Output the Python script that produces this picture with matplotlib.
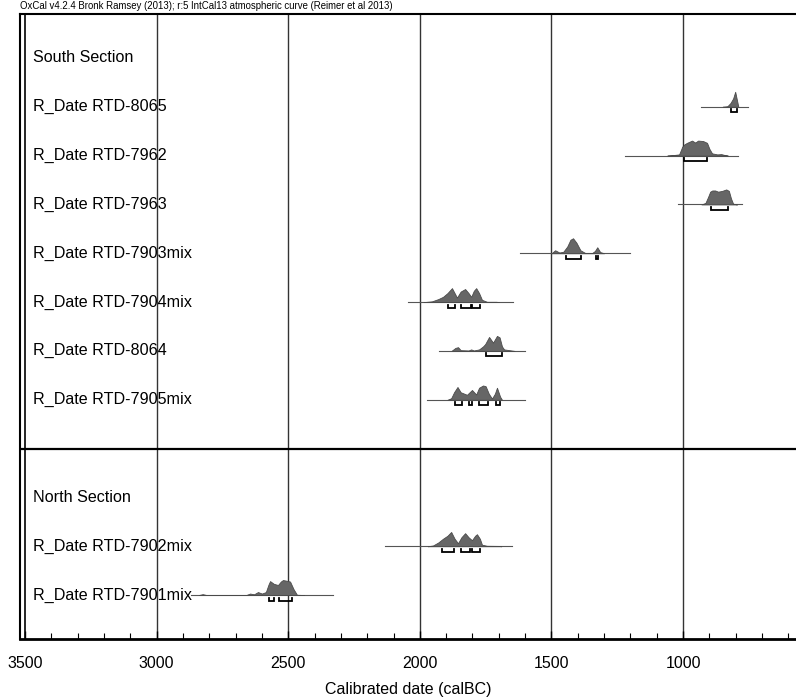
#!/usr/bin/env python3
"""OxCal multiplot of calibrated radiocarbon dates (South / North sections)."""

import matplotlib
matplotlib.use('Agg')
import matplotlib.pyplot as plt
import numpy as np

plt.rcParams['font.family'] = ['Liberation Sans', 'DejaVu Sans']

# Row labels, top to bottom (None = empty separator row)
row_labels = [
    'South Section',
    'R_Date RTD-8065',
    'R_Date RTD-7962',
    'R_Date RTD-7963',
    'R_Date RTD-7903mix',
    'R_Date RTD-7904mix',
    'R_Date RTD-8064',
    'R_Date RTD-7905mix',
    None,
    'North Section',
    'R_Date RTD-7902mix',
    'R_Date RTD-7901mix',
]
separator_row = 8

# Likelihood curves: (years calBC, relative density)
dates = {
    'R_Date RTD-8065': {
        'span': (931, 753),
        'years': [850, 832, 820, 810, 802, 796, 790],
        'dens': [0.0, 0.03, 0.25, 0.55, 1.0, 0.5, 0.0],
        'ranges': [(817, 794)],
    },
    'R_Date RTD-7962': {
        'span': (1220, 790),
        'years': [1060, 1040, 1015, 1003, 995, 985, 966, 954, 943, 924, 909,
                  900, 890, 870, 855, 840, 830],
        'dens': [0.0, 0.03, 0.08, 0.6, 0.75, 0.85, 1.0, 0.87, 1.0, 0.97, 0.85,
                 0.45, 0.15, 0.08, 0.1, 0.03, 0.0],
        'ranges': [(996, 908)],
    },
    'R_Date RTD-7963': {
        'span': (1019, 776),
        'years': [930, 915, 905, 897, 889, 878, 867, 852, 836, 826, 818, 810,
                  795],
        'dens': [0.0, 0.1, 0.5, 0.85, 0.93, 0.93, 0.85, 0.9, 1.0, 0.9, 0.4,
                 0.05, 0.0],
        'ranges': [(893, 829)],
    },
    'R_Date RTD-7903mix': {
        'span': (1619, 1201),
        'years': [1500, 1486, 1470, 1455, 1440, 1428, 1418, 1405, 1390, 1372,
                  1345, 1335, 1326, 1315, 1300],
        'dens': [0.0, 0.2, 0.05, 0.1, 0.45, 0.9, 1.0, 0.7, 0.2, 0.02, 0.02,
                 0.15, 0.4, 0.08, 0.0],
        'ranges': [(1444, 1387), (1330, 1323)],
    },
    'R_Date RTD-7904mix': {
        'span': (2045, 1646),
        'years': [1985, 1954, 1930, 1912, 1895, 1878, 1868, 1859, 1845, 1828,
                  1815, 1805, 1795, 1786, 1775, 1764, 1745, 1710, 1700],
        'dens': [0.0, 0.05, 0.2, 0.35, 0.6, 0.93, 0.6, 0.3, 0.7, 0.87, 0.6,
                 0.35, 0.75, 0.93, 0.6, 0.15, 0.02, 0.02, 0.0],
        'ranges': [(1893, 1866), (1843, 1805), (1801, 1771)],
    },
    'R_Date RTD-8064': {
        'span': (1927, 1600),
        'years': [1880, 1865, 1855, 1845, 1815, 1805, 1795, 1775, 1760, 1752,
                  1737, 1722, 1707, 1697, 1688, 1680, 1660, 1640],
        'dens': [0.0, 0.2, 0.25, 0.05, 0.03, 0.1, 0.03, 0.1, 0.3, 0.45, 0.93,
                 0.55, 1.0, 0.9, 0.3, 0.1, 0.05, 0.0],
        'ranges': [(1748, 1687)],
    },
    'R_Date RTD-7905mix': {
        'span': (1972, 1600),
        'years': [1895, 1881, 1870, 1857, 1845, 1821, 1802, 1786, 1775, 1760,
                  1750, 1738, 1726, 1715, 1707, 1695, 1688],
        'dens': [0.0, 0.1, 0.5, 0.85, 0.5, 0.33, 0.65, 0.35, 0.8, 0.95, 0.9,
                 0.4, 0.08, 0.4, 0.8, 0.2, 0.0],
        'ranges': [(1868, 1841), (1813, 1800), (1777, 1742), (1710, 1697)],
    },
    'R_Date RTD-7902mix': {
        'span': (2132, 1649),
        'years': [1970, 1950, 1930, 1912, 1895, 1881, 1868, 1855, 1842, 1828,
                  1815, 1802, 1790, 1783, 1772, 1764, 1745, 1700, 1690],
        'dens': [0.0, 0.05, 0.25, 0.5, 0.7, 0.95, 0.5, 0.2, 0.6, 0.87, 0.6,
                 0.4, 0.7, 0.8, 0.5, 0.1, 0.03, 0.02, 0.0],
        'ranges': [(1916, 1870), (1843, 1809), (1802, 1771)],
    },
    'R_Date RTD-7901mix': {
        'span': (2870, 2330),
        'years': [2840, 2825, 2810, 2660, 2645, 2630, 2615, 2600, 2585, 2575,
                  2569, 2555, 2539, 2528, 2520, 2505, 2493, 2480, 2467, 2440],
        'dens': [0.0, 0.06, 0.0, 0.0, 0.1, 0.05, 0.2, 0.1, 0.2, 0.7, 0.93,
                 0.75, 0.67, 0.9, 1.0, 0.95, 0.9, 0.4, 0.02, 0.0],
        'ranges': [(2573, 2554), (2535, 2486)],
    },
}

major_ticks = [3500, 3000, 2500, 2000, 1500, 1000]
minor_ticks = list(range(3500, 500, -100))

title_text = ('OxCal v4.2.4 Bronk Ramsey (2013); r:5 IntCal13 atmospheric '
              'curve (Reimer et al 2013)')
x_label = 'Calibrated date (calBC)'

ROW_PX = 48.8
PEAK = 15.0 / ROW_PX        # height of a density of 1.0, in row units
BRACKET_Y = 5.5 / ROW_PX
BRACKET_TICK = 3.0 / ROW_PX

fig = plt.figure(figsize=(7.96, 6.98), dpi=100)
ax = fig.add_axes([20 / 796, 59 / 698, 776 / 796, 625 / 698])
ax.set_xlim(3519, 571)
ax.set_ylim(11.9, -0.9)

# vertical grid lines at the major ticks
for yr in major_ticks[1:]:
    ax.axvline(yr, color='#333333', lw=1.0, zorder=1)
ax.axvline(3500, color='black', lw=1.2, zorder=3)
ax.axhline(separator_row, color='black', lw=1.6, zorder=3)

for i, label in enumerate(row_labels):
    if label is None:
        continue
    ax.text(3470, i, label, fontsize=11.6, va='center', ha='left', zorder=4)
    if label not in dates:
        continue
    d = dates[label]
    ax.plot(d['span'], [i, i], color='#555555', lw=0.8, zorder=2)
    yrs = np.array(d['years'])
    dens = np.array(d['dens'])
    ax.fill_between(yrs, i, i - dens * PEAK, color='#666666',
                    edgecolor='#4a4a4a', lw=0.6, zorder=2)
    yb = i + BRACKET_Y
    for a, b in d['ranges']:
        ax.plot([a, a, b, b], [yb - BRACKET_TICK, yb, yb, yb - BRACKET_TICK],
                color='black', lw=1.3, zorder=3, solid_joinstyle='miter')

for side in ['left', 'top']:
    ax.spines[side].set_linewidth(1.5)
ax.spines['bottom'].set_linewidth(2.0)
ax.spines['right'].set_visible(False)

ax.set_yticks([])
ax.set_xticks(major_ticks)
ax.set_xticklabels([str(t) for t in major_ticks], fontsize=11.5)
ax.set_xticks(minor_ticks, minor=True)
ax.tick_params(axis='x', which='major', direction='in', length=6, width=1,
               pad=12)
ax.tick_params(axis='x', which='minor', direction='in', length=4, width=0.8)
ax.set_xlabel(x_label, fontsize=11.5, labelpad=8)

fig.text(20 / 796, 1 - 6 / 698, title_text, fontsize=6.9, va='center',
         ha='left')

fig.savefig('out.png', dpi=100)
